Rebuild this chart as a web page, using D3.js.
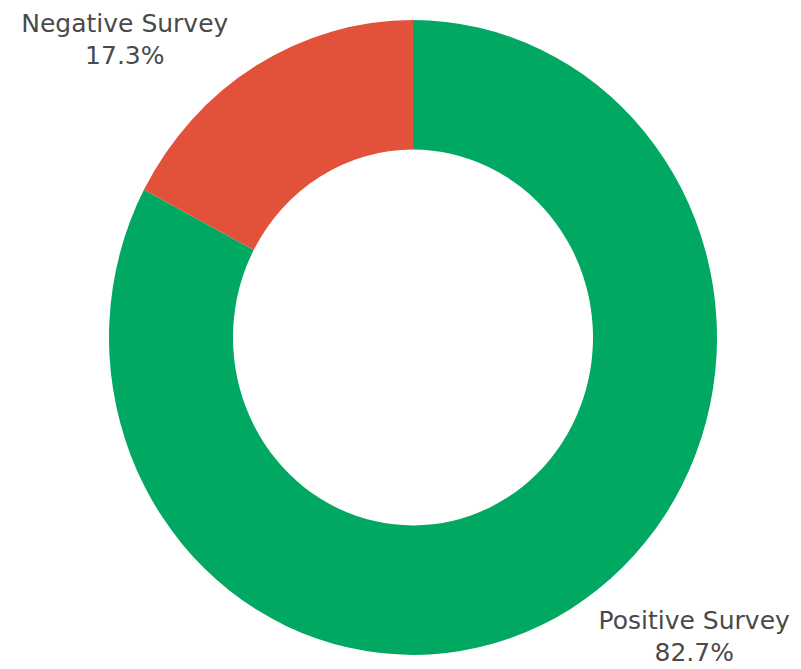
<!DOCTYPE html>
<html>
<head>
<meta charset="utf-8">
<script src="https://cdn.jsdelivr.net/npm/d3@7"></script>
<style>
  html, body { margin: 0; padding: 0; background: #fff; }
  svg text { font-family: "DejaVu Sans", Verdana, sans-serif; fill: #4a4a4a; }
</style>
</head>
<body>
<svg id="chart" width="801" height="669"></svg>
<script>
const width = 801;
const height = 669;

// data
const labels = ["Positive Survey", "Negative Survey"];
const values = [82.7, 17.3];
const colors = ["#00a862", "#e2513a"];

const cx = 413;
const cy = 337.5;
const outerR = 304;
const innerR = 180;
const yStretch = 1.044;

const svg = d3.select("#chart");

const pie = d3.pie().sort(null).value((d) => d.value);
const arc = d3.arc().innerRadius(innerR).outerRadius(outerR);

const data = labels.map((l, i) => ({ label: l, value: values[i], color: colors[i] }));
const arcs = pie(data);

const g = svg
  .append("g")
  .attr("transform", `translate(${cx},${cy}) scale(1,${yStretch})`);

g.selectAll("path")
  .data(arcs)
  .enter()
  .append("path")
  .attr("d", arc)
  .attr("fill", (d) => d.data.color);

// outside labels, pushed away from the ring edge
const labelOffset = {
  "Positive Survey": [124, 20],
  "Negative Survey": [-131, -34],
};
const total = d3.sum(values);
const fmt = d3.format(".1%");

arcs.forEach((d) => {
  const mid = (d.startAngle + d.endAngle) / 2;
  const px = cx + outerR * Math.sin(mid);
  const py = cy - outerR * Math.cos(mid) * yStretch;
  const off = labelOffset[d.data.label];
  const t = svg
    .append("text")
    .attr("text-anchor", "middle")
    .attr("font-size", 25)
    .attr("x", px + off[0])
    .attr("y", py + off[1]);
  t.append("tspan").attr("x", px + off[0]).text(d.data.label);
  t.append("tspan")
    .attr("x", px + off[0])
    .attr("dy", 32)
    .text(fmt(d.data.value / total));
});
</script>
</body>
</html>
